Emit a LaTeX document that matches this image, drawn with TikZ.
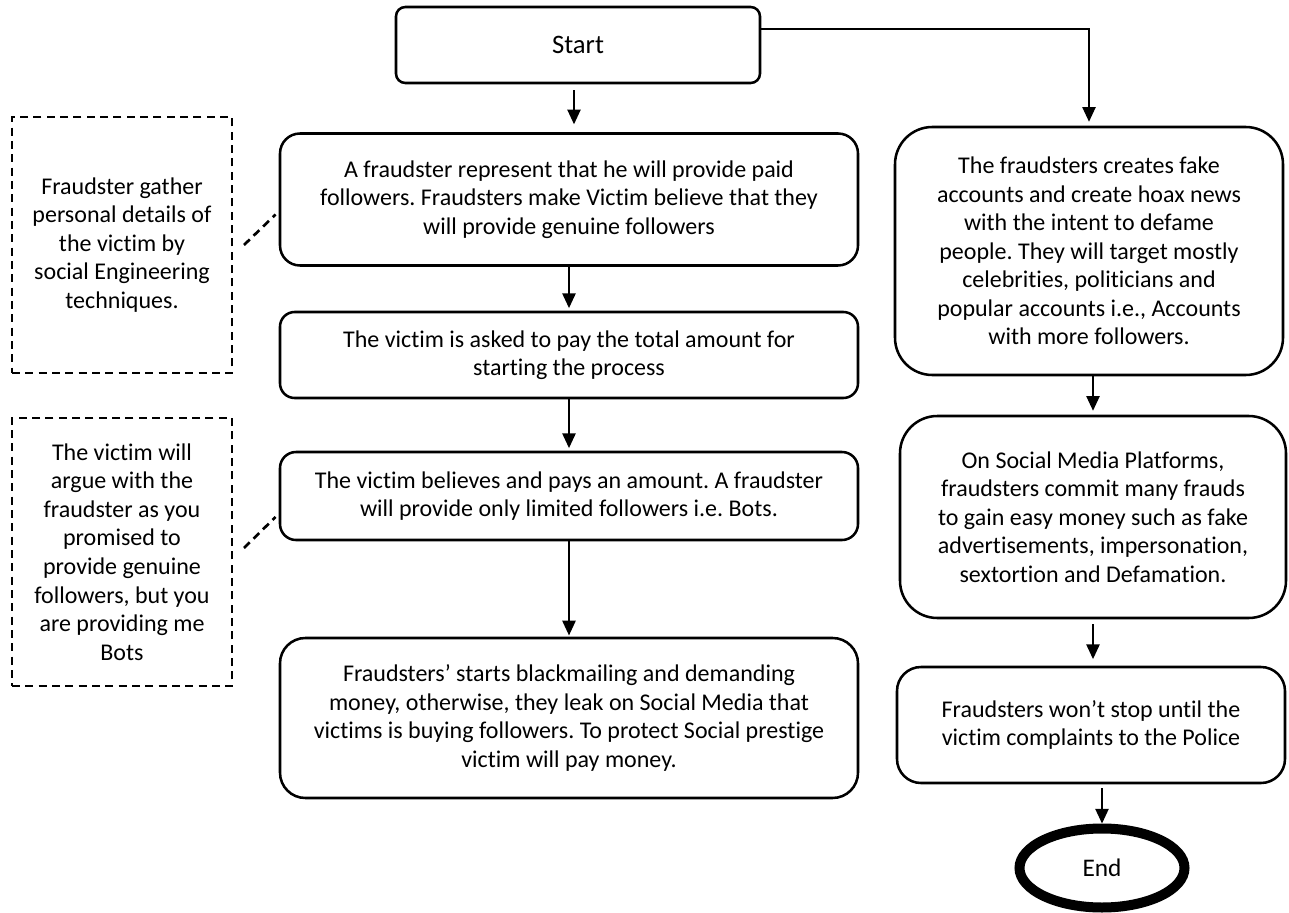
\documentclass[tikz,border=0pt]{standalone}
\usepackage{fontspec}
\setmainfont{Carlito}[Ligatures=CommonOff]
\usetikzlibrary{arrows.meta,shapes.geometric,calc}
\frenchspacing
\begin{document}
\begin{tikzpicture}[x=0.75pt,y=-0.75pt,
  every node/.style={font=\fontsize{18}{21.4}\selectfont, align=center, inner sep=0pt},
  stepbox/.style={draw, line width=1.9pt, rounded corners=#1},
  stepbox/.default=6pt,
  colbox/.style={stepbox=#1, minimum width=433.5pt},
  notebox/.style={draw, line width=2pt, dash pattern=on 6pt off 4pt},
  flow/.style={line width=1pt, -{Triangle[length=11pt,width=10pt]}},
  link/.style={line width=2pt, dash pattern=on 6pt off 4pt}]
\useasboundingbox (0,0) rectangle (1289,913);

% left column
\node[stepbox=7pt, minimum width=273pt, minimum height=57pt, font=\fontsize{20}{24}\selectfont] (start) at (578,45) {Start};
\node[colbox=15pt, minimum height=99pt] (b1) at (569,199.5)
  {A fraudster represent that he will provide paid\\followers. Fraudsters make Victim believe that they\\will provide genuine followers};
\node[colbox=11pt, minimum height=64.5pt] (b2) at (569,355)
  {The victim is asked to pay the total amount for\\starting the process};
\node[colbox=12pt, minimum height=66pt] (b3) at (569,496)
  {The victim believes and pays an amount. A fraudster\\will provide only limited followers i.e. Bots.};
\node[colbox=19pt, minimum height=120pt] (b4) at (569,718)
  {Fraudsters’ starts blackmailing and demanding\\money, otherwise, they leak on Social Media that\\victims is buying followers. To protect Social prestige\\victim will pay money.};

% right column
\node[stepbox=28pt, minimum width=291pt, minimum height=186pt] (r1) at (1089,251)
  {The fraudsters creates fake\\accounts and create hoax news\\with the intent to defame\\people. They will target mostly\\celebrities, politicians and\\popular accounts i.e., Accounts\\with more followers.};
\node[stepbox=28pt, minimum width=289.5pt, minimum height=151.5pt] (r2) at (1093,517)
  {On Social Media Platforms,\\fraudsters commit many frauds\\to gain easy money such as fake\\advertisements, impersonation,\\sextortion and Defamation.};
\node[stepbox=18pt, minimum width=291pt, minimum height=87pt] (r3) at (1091,725)
  {Fraudsters won’t stop until the\\victim complaints to the Police};
\node[draw, ellipse, line width=7.5pt, minimum width=123.75pt, minimum height=59.25pt, font=\fontsize{19}{22}\selectfont] (end) at (1102,868) {End};

% side notes
\node[notebox, minimum width=165pt, minimum height=192pt] (d1) at (122,245)
  {Fraudster gather\\personal details of\\the victim by\\social Engineering\\techniques.};
\node[notebox, minimum width=165pt, minimum height=201pt] (d2) at (122,552)
  {The victim will\\argue with the\\fraudster as you\\promised to\\provide genuine\\followers, but you\\are providing me\\Bots};

% connectors
\draw[flow] ([xshift=-3pt,yshift=-4.5pt]start.south) -- ([xshift=-3pt,yshift=6pt]start.south |- b1.north);
\draw[flow, shorten >=2pt] (b1) -- (b2);
\draw[flow, shorten >=2pt] (b2) -- (b3);
\draw[flow, shorten >=1pt] (b3) -- (b4);
\draw[flow] ([yshift=12pt]start.east) -| ([yshift=3pt]r1.north);
\draw[flow] (r1.south -| r2.north) -- ([yshift=3pt]r2.north);
\draw[flow] ([yshift=-3.75pt]r2.south) -- ([yshift=5pt]r2.south |- r3.north);
\draw[flow] ([yshift=-3pt]r3.south -| end.north) -- (end.north);

\draw[link] ([xshift=8pt]d1.east) -- ([xshift=-2.4pt,yshift=-11.25pt]b1.west);
\draw[link] ([xshift=8pt,yshift=3pt]d2.east) -- ([xshift=-2.4pt,yshift=-15.75pt]b3.west);
\end{tikzpicture}
\end{document}
